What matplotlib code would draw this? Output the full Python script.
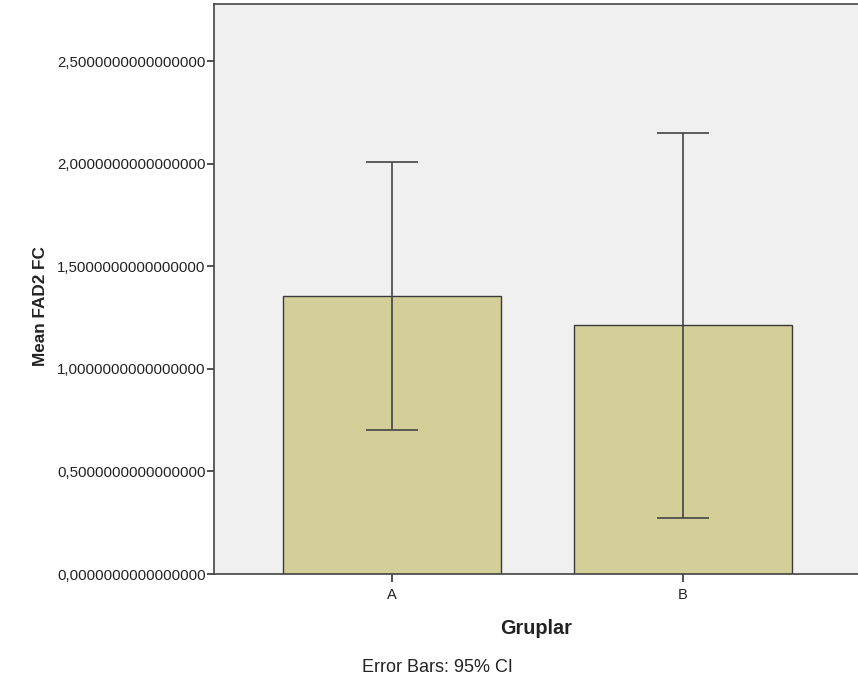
import matplotlib
matplotlib.use("Agg")
import matplotlib.pyplot as plt

# values (SPSS-style mean bar chart, 95% CI)
groups = ["A", "B"]
means = [1.353, 1.212]
ci_low = [0.700, 0.272]
ci_high = [2.009, 2.150]
yticks = [0.0, 0.5, 1.0, 1.5, 2.0, 2.5]
ytick_labels = [("%.16f" % v).replace(".", ",") for v in yticks]

BAR, EDGE, BG, TEXT = "#d4cf98", "#3a3a3a", "#f0f0f0", "#222222"

plt.rcParams["font.family"] = ["Liberation Sans", "DejaVu Sans"]

fig = plt.figure(figsize=(8.58, 6.81), dpi=100, facecolor="white")
ax = fig.add_axes([0.2494, 0.157, 0.7506, 0.837], facecolor=BG)

x = list(range(len(groups)))
ax.bar(x, means, width=0.75, color=BAR, edgecolor=EDGE, linewidth=1.0, zorder=2)
yerr = [[m - lo for m, lo in zip(means, ci_low)], [hi - m for m, hi in zip(means, ci_high)]]
ax.errorbar(x, means, yerr=yerr, fmt="none", ecolor="#444444", elinewidth=1.2,
            capsize=19, capthick=1.2, zorder=3)

ax.set_xlim(-0.612, 1.601)
ax.set_ylim(0, 2.778)
ax.set_xticks(x)
ax.set_xticklabels(groups)
ax.set_yticks(yticks)
ax.set_yticklabels(ytick_labels)
ax.tick_params(axis="y", length=5, width=1.2, colors="#333333", labelsize=10.8, labelcolor=TEXT, pad=1)
ax.tick_params(axis="x", length=6, width=1.2, colors="#333333", labelsize=10.5, labelcolor=TEXT, pad=4)

ax.set_ylabel("Mean FAD2 FC", fontsize=12.3, fontweight="bold", color=TEXT)
ax.set_xlabel("Gruplar", fontsize=14.3, fontweight="bold", color=TEXT, labelpad=12)
ax.yaxis.set_label_coords(-0.257, 0.47)

for s in ("left", "bottom", "top"):
    ax.spines[s].set_color("#444444")
    ax.spines[s].set_linewidth(1.2)
ax.spines["right"].set_visible(False)

fig.text(437 / 858, 1 - 667 / 681, "Error Bars: 95% CI", ha="center", va="center",
         fontsize=13, color=TEXT)

fig.savefig("out.png", dpi=100, facecolor="white")
